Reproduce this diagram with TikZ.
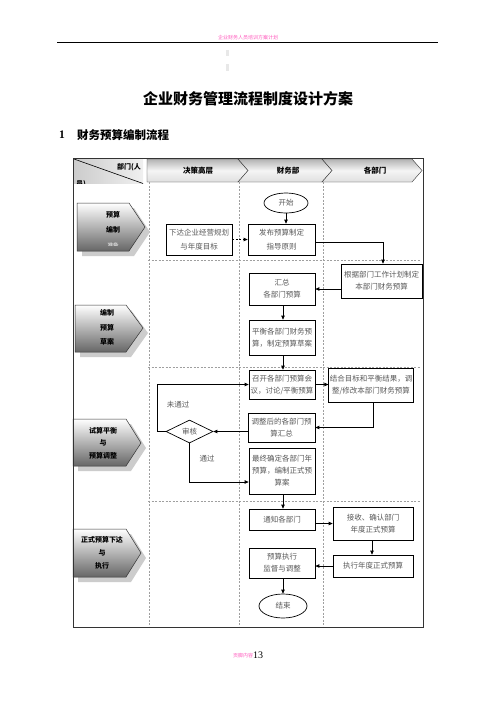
\documentclass[tikz,border=0pt]{standalone}
\usepackage{fontspec}
\setmainfont{Liberation Serif}
\newfontfamily\cjk{Noto Sans CJK SC}
\usetikzlibrary{arrows.meta,shapes.geometric,calc}
\definecolor{pinktxt}{RGB}{255,90,190}
\tikzset{
  box/.style={draw=black, line width=0.7pt, font=\cjk\fontsize{7.5}{12}\selectfont, text=black!65, align=center, inner sep=1pt},
  oval/.style={ellipse, draw=black, line width=0.7pt, font=\cjk\fontsize{7.5}{12}\selectfont, text=black!65, inner sep=0pt},
  arr/.style={-{Triangle[length=4pt,width=3.5pt]}, line width=0.8pt, draw=black},
  lane/.style={draw=gray!75, dash pattern=on 2pt off 1.5pt, line width=0.5pt},
  hdr/.style={draw=gray!40!black, line width=0.4pt, top color=gray!60, bottom color=gray!25, middle color=gray!8},
  phase/.style={draw=gray!40!black, line width=0.5pt, top color=white, bottom color=gray!80!black},
  shad/.style={fill=gray!40, draw=none},
  hdrtxt/.style={font=\cjk\bfseries\fontsize{7.5}{9}\selectfont, inner sep=0pt},
  phtxt/.style={font=\cjk\bfseries\fontsize{7}{9}\selectfont, inner sep=0pt},
  lbl/.style={font=\cjk\fontsize{7.5}{9}\selectfont, text=black!65, inner sep=0pt}
}
\begin{document}
\begin{tikzpicture}[x=1pt,y=-1pt]
\useasboundingbox (0,0) rectangle (496,702);
\fill[white] (0,0) rectangle (496,702);

% page header
\node[font=\cjk\fontsize{5}{6}\selectfont, text=pinktxt, inner sep=0pt] (hdtext) at (248,38) {企业财务人员培训方案计划};
\draw[line width=0.8pt] (57,42) -- (438,42);
\fill[gray!18] (226,50) rectangle (229,56);
\fill[gray!18] (226,64) rectangle (229,71);

% title
\node[font=\cjk\bfseries\fontsize{15}{18}\selectfont, inner sep=0pt] (title) at (248,99) {企业财务管理流程制度设计方案};
\node[font=\bfseries\fontsize{11.5}{13}\selectfont, inner sep=0pt] (secnum) at (62,135) {1};
\node[font=\cjk\bfseries\fontsize{11.5}{13}\selectfont, inner sep=0pt, anchor=west] (sectitle) at (77,135) {财务预算编制流程};

% top-left cell
\begin{scope}
\clip (74,159) rectangle (143,183.5);
\shade[left color=gray!40, right color=gray!12] (74,159) rectangle (143,183.5);
\node[font=\cjk\bfseries\fontsize{7}{9}\selectfont, inner sep=0pt] (dept) at (129,167) {部门(人};
\node[font=\cjk\bfseries\fontsize{7}{9}\selectfont, inner sep=0pt, anchor=west] (staff) at (76,184) {员)};
\end{scope}
\draw[line width=0.6pt] (74,159) -- (143,183.5);

% header chevrons
\path[hdr] (147,159) -- (238,159) -- (248,170.5) -- (238,182) -- (147,182) -- cycle;
\path[hdr] (238,159) -- (322,159) -- (332,170.5) -- (322,182) -- (238,182) -- (248,170.5) -- cycle;
\path[hdr] (322,159) -- (412,159) -- (422,170.5) -- (412,182) -- (322,182) -- (332,170.5) -- cycle;
\node[hdrtxt] (h1) at (198,171) {决策高层};
\node[hdrtxt] (h2) at (288,171) {财务部};
\node[hdrtxt] (h3) at (375,171) {各部门};

% lanes
\draw[lane] (149,182) -- (149,627);
\draw[lane] (239,182) -- (239,627);
\draw[lane] (323,182) -- (323,627);
\draw[lane] (148,260) -- (421,260);
\draw[lane] (148,367) -- (421,367);
\draw[lane] (148,501) -- (421,501);

% phase pentagons
\fill[shad] (82,208) -- (134,208) -- (150,232) -- (134,256) -- (82,256) -- cycle;
\path[phase] (77,203) -- (129,203) -- (145,227) -- (129,251) -- (77,251) -- cycle;
\node[phtxt] (p1a) at (113,215) {预算};
\node[phtxt] (p1b) at (113,230) {编制};
\begin{scope}
\clip (77,238) rectangle (129,245.5);
\node[font=\cjk\bfseries\fontsize{5.5}{7}\selectfont, inner sep=0pt, text=white!80!black] (p1c) at (113,245) {准备};
\end{scope}

\fill[shad] (80,310) -- (131,310) -- (148,333) -- (131,357) -- (80,357) -- cycle;
\path[phase] (75,305) -- (126,305) -- (143,328) -- (126,352) -- (75,352) -- cycle;
\node[phtxt] (p2a) at (107,313) {编制};
\node[phtxt] (p2b) at (107,328) {预算};
\node[phtxt] (p2c) at (107,342) {草案};

\fill[shad] (78,424) -- (131,424) -- (146,448) -- (131,471) -- (78,471) -- cycle;
\path[phase] (73,419) -- (126,419) -- (141,443) -- (126,466) -- (73,466) -- cycle;
\node[phtxt] (p3a) at (103,431) {试算平衡};
\node[phtxt] (p3b) at (103,443) {与};
\node[phtxt] (p3c) at (103,456) {预算调整};

\fill[shad] (78,534) -- (131,534) -- (146,558) -- (131,582) -- (78,582) -- cycle;
\path[phase] (73,529) -- (126,529) -- (141,553) -- (126,577) -- (73,577) -- cycle;
\node[phtxt] (p4a) at (102,540) {正式预算下达};
\node[phtxt] (p4b) at (102,553) {与};
\node[phtxt] (p4c) at (102,566) {执行};

% frame
\draw[line width=1pt, draw=black!80] (73,158) rectangle (423,627);

% flow nodes
\node[oval, minimum width=44pt, minimum height=20pt] (kaishi) at (286,203) {开始};
\node[box, minimum width=66pt, minimum height=31pt, font=\cjk\fontsize{7.5}{14}\selectfont] (xiada) at (199,239.5) {下达企业经营规划\\与年度目标};
\node[box, minimum width=67pt, minimum height=31pt, font=\cjk\fontsize{7.5}{14}\selectfont] (fabu) at (281.5,239.5) {发布预算制定\\指导原则};
\node[box, minimum width=81pt, minimum height=34pt] (genju) at (381.5,281) {根据部门工作计划制定\\本部门财务预算};
\node[box, minimum width=66pt, minimum height=32pt] (huizong) at (282,289) {汇总\\各部门预算};
\node[box, minimum width=66pt, minimum height=35pt] (pingheng) at (282,337.5) {平衡各部门财务预\\算，制定预算草案};
\node[box, minimum width=66pt, minimum height=29pt] (zhaokai) at (282,384.5) {召开各部门预算会\\议，讨论/平衡预算};
\node[box, minimum width=84pt, minimum height=34pt] (jiehe) at (371,385) {结合目标和平衡结果，调\\整/修改本部门财务预算};
\node[box, minimum width=67pt, minimum height=29pt] (tiaozheng) at (281.5,427.5) {调整后的各部门预\\算汇总};
\node[diamond, draw=black, line width=0.7pt, aspect=2, minimum width=47pt, minimum height=23pt, inner sep=0pt, font=\cjk\fontsize{7.5}{9}\selectfont, text=black!65] (shenhe) at (189.5,431.5) {审核};
\node[box, minimum width=66pt, minimum height=46pt] (zuizhong) at (282,471) {最终确定各部门年\\预算，编制正式预\\算案};
\node[box, minimum width=66pt, minimum height=21pt] (tongzhi) at (282,519.5) {通知各部门};
\node[box, minimum width=80pt, minimum height=33pt] (jieshou) at (373,523.5) {接收、确认部门\\年度正式预算};
\node[box, minimum width=80pt, minimum height=22pt] (zhixing) at (373,566) {执行年度正式预算};
\node[box, minimum width=66pt, minimum height=30pt] (yusuan) at (282,563) {预算执行\\监督与调整};
\node[oval, minimum width=48pt, minimum height=24pt] (jieshu) at (283,606) {结束};

\node[lbl] (weitongguo) at (178,405) {未通过};
\node[lbl] (tongguo) at (207,459) {通过};

\coordinate (cl) at (157,0);
\coordinate (cb) at (0,482);
\coordinate (cf) at (0,242);

% connectors
\draw[arr] (kaishi.south) -- (kaishi.south |- fabu.north);
\draw[arr, dash pattern=on 2pt off 1.5pt] (xiada.east) -- (fabu.west);
\draw[arr] (fabu.east |- cf) -| (genju.north -| 383,0);
\draw[arr] (huizong.east -| genju.west) -- (huizong.east);
\draw[arr] (huizong.south -| 283,0) -- (pingheng.north -| 283,0);
\draw[arr] (pingheng.south -| 283,0) -- (zhaokai.north -| 283,0);
\draw[arr] (zhaokai.east) -- (zhaokai.east -| jiehe.west);
\draw[arr] (jiehe.south -| 373,0) |- (tiaozheng.east);
\draw[arr] (shenhe.east -| tiaozheng.west) -- (shenhe.east);
\draw[arr] (shenhe.west) -- (shenhe.west -| cl) |- (zhaokai.west);
\draw[arr] (shenhe.south) |- (zuizhong.west |- cb);
\draw[arr] (zuizhong.south -| 283,0) -- (tongzhi.north -| 283,0);
\draw[arr] (jieshou.west -| tongzhi.east) -- (jieshou.west);
\draw[arr] (jieshou.south -| 372,0) -- (zhixing.north -| 372,0);
\draw[arr] (zhixing.west) -- (zhixing.west -| yusuan.east);
\draw[arr] (yusuan.south -| 283,0) -- (jieshu.north -| 283,0);

% footer
\node[font=\cjk\fontsize{5}{6}\selectfont, text=pinktxt, inner sep=0pt] (ftext) at (243,656) {页脚内容};
\node[font=\fontsize{10}{12}\selectfont, inner sep=0pt] (pagenum) at (258,655) {13};
\end{tikzpicture}
\end{document}
